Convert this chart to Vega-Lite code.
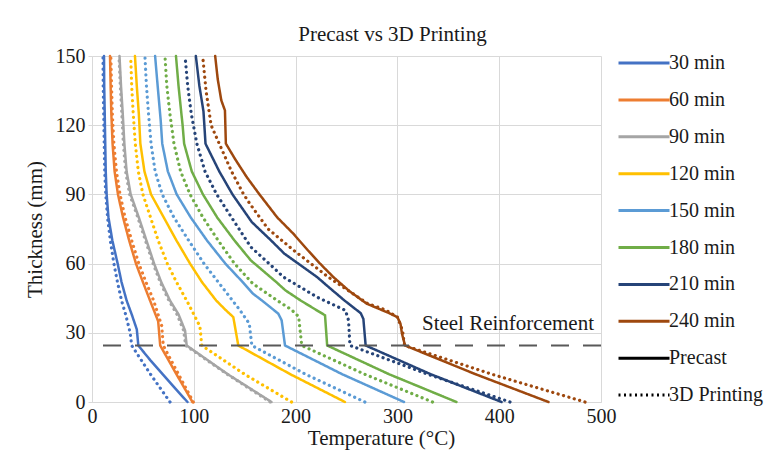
{
"$schema": "https://vega.github.io/schema/vega-lite/v6.json",
"width": 509, "height": 346,
"autosize": "none",
"padding": {"left": 92, "top": 56, "right": 178, "bottom": 65},
"background": "white",
"title": {"text": "Precast vs 3D Printing", "anchor": "middle", "frame": "group", "dx": 46, "dy": 33, "offset": 17, "baseline": "alphabetic", "fontSize": 21, "font": "Liberation Serif", "fontWeight": "normal", "color": "#1a1a1a"},
"datasets": {
"steel": [{"label": "Steel Reinforcement", "mm": 24.5}],
"curves": [
{"time":"30 min","type":"Precast","mm":0,"temp":93.8},{"time":"30 min","type":"Precast","mm":6,"temp":81.5},{"time":"30 min","type":"Precast","mm":12,"temp":69.5},{"time":"30 min","type":"Precast","mm":18,"temp":57.5},{"time":"30 min","type":"Precast","mm":24.5,"temp":45.5},{"time":"30 min","type":"Precast","mm":31.5,"temp":44},{"time":"30 min","type":"Precast","mm":38,"temp":39},{"time":"30 min","type":"Precast","mm":44,"temp":34},{"time":"30 min","type":"Precast","mm":52,"temp":29},{"time":"30 min","type":"Precast","mm":60,"temp":25.2},{"time":"30 min","type":"Precast","mm":70,"temp":20},{"time":"30 min","type":"Precast","mm":80,"temp":16.2},{"time":"30 min","type":"Precast","mm":90,"temp":14.4},{"time":"30 min","type":"Precast","mm":100,"temp":13.5},{"time":"30 min","type":"Precast","mm":112,"temp":13},{"time":"30 min","type":"Precast","mm":125,"temp":12.5},{"time":"30 min","type":"Precast","mm":137,"temp":12},{"time":"30 min","type":"Precast","mm":150,"temp":11.8},
{"time":"30 min","type":"3D Printing","mm":0,"temp":76.6},{"time":"30 min","type":"3D Printing","mm":12,"temp":57.5},{"time":"30 min","type":"3D Printing","mm":24.5,"temp":39},{"time":"30 min","type":"3D Printing","mm":30,"temp":37.5},{"time":"30 min","type":"3D Printing","mm":38,"temp":33},{"time":"30 min","type":"3D Printing","mm":44,"temp":29},{"time":"30 min","type":"3D Printing","mm":52,"temp":25},{"time":"30 min","type":"3D Printing","mm":60,"temp":21.5},{"time":"30 min","type":"3D Printing","mm":70,"temp":18},{"time":"30 min","type":"3D Printing","mm":80,"temp":15.3},{"time":"30 min","type":"3D Printing","mm":90,"temp":13.5},{"time":"30 min","type":"3D Printing","mm":100,"temp":12.5},{"time":"30 min","type":"3D Printing","mm":112,"temp":12},{"time":"30 min","type":"3D Printing","mm":125,"temp":11.5},{"time":"30 min","type":"3D Printing","mm":137,"temp":11},{"time":"30 min","type":"3D Printing","mm":150,"temp":10.8},
{"time":"60 min","type":"Precast","mm":0,"temp":98.7},{"time":"60 min","type":"Precast","mm":12,"temp":83},{"time":"60 min","type":"Precast","mm":24.5,"temp":67},{"time":"60 min","type":"Precast","mm":35,"temp":65},{"time":"60 min","type":"Precast","mm":44,"temp":57},{"time":"60 min","type":"Precast","mm":52,"temp":50},{"time":"60 min","type":"Precast","mm":60,"temp":43.2},{"time":"60 min","type":"Precast","mm":70,"temp":36.5},{"time":"60 min","type":"Precast","mm":80,"temp":30.5},{"time":"60 min","type":"Precast","mm":90,"temp":25.5},{"time":"60 min","type":"Precast","mm":100,"temp":22.2},{"time":"60 min","type":"Precast","mm":112,"temp":20.2},{"time":"60 min","type":"Precast","mm":125,"temp":19},{"time":"60 min","type":"Precast","mm":137,"temp":18.3},{"time":"60 min","type":"Precast","mm":150,"temp":17.7},
{"time":"60 min","type":"3D Printing","mm":0,"temp":99.5},{"time":"60 min","type":"3D Printing","mm":12,"temp":85},{"time":"60 min","type":"3D Printing","mm":24.5,"temp":70},{"time":"60 min","type":"3D Printing","mm":33,"temp":68.5},{"time":"60 min","type":"3D Printing","mm":44,"temp":60.5},{"time":"60 min","type":"3D Printing","mm":52,"temp":53},{"time":"60 min","type":"3D Printing","mm":60,"temp":46},{"time":"60 min","type":"3D Printing","mm":70,"temp":39},{"time":"60 min","type":"3D Printing","mm":80,"temp":32.5},{"time":"60 min","type":"3D Printing","mm":90,"temp":27.5},{"time":"60 min","type":"3D Printing","mm":100,"temp":24},{"time":"60 min","type":"3D Printing","mm":112,"temp":21.5},{"time":"60 min","type":"3D Printing","mm":125,"temp":20},{"time":"60 min","type":"3D Printing","mm":137,"temp":19.2},{"time":"60 min","type":"3D Printing","mm":150,"temp":18.5},
{"time":"90 min","type":"Precast","mm":0,"temp":176.3},{"time":"90 min","type":"Precast","mm":12,"temp":133.5},{"time":"90 min","type":"Precast","mm":24.5,"temp":93},{"time":"90 min","type":"Precast","mm":31,"temp":91.4},{"time":"90 min","type":"Precast","mm":38,"temp":85},{"time":"90 min","type":"Precast","mm":44,"temp":76.6},{"time":"90 min","type":"Precast","mm":52,"temp":68},{"time":"90 min","type":"Precast","mm":60,"temp":61},{"time":"90 min","type":"Precast","mm":70,"temp":53.5},{"time":"90 min","type":"Precast","mm":80,"temp":46},{"time":"90 min","type":"Precast","mm":90,"temp":38},{"time":"90 min","type":"Precast","mm":100,"temp":34},{"time":"90 min","type":"Precast","mm":112,"temp":31.8},{"time":"90 min","type":"Precast","mm":125,"temp":30.2},{"time":"90 min","type":"Precast","mm":137,"temp":28.5},{"time":"90 min","type":"Precast","mm":150,"temp":27},
{"time":"90 min","type":"3D Printing","mm":0,"temp":175},{"time":"90 min","type":"3D Printing","mm":12,"temp":133},{"time":"90 min","type":"3D Printing","mm":24.5,"temp":92},{"time":"90 min","type":"3D Printing","mm":31,"temp":90},{"time":"90 min","type":"3D Printing","mm":38,"temp":83.5},{"time":"90 min","type":"3D Printing","mm":44,"temp":75.5},{"time":"90 min","type":"3D Printing","mm":52,"temp":67},{"time":"90 min","type":"3D Printing","mm":60,"temp":60},{"time":"90 min","type":"3D Printing","mm":70,"temp":52.5},{"time":"90 min","type":"3D Printing","mm":80,"temp":45},{"time":"90 min","type":"3D Printing","mm":90,"temp":37},{"time":"90 min","type":"3D Printing","mm":100,"temp":33},{"time":"90 min","type":"3D Printing","mm":112,"temp":30.8},{"time":"90 min","type":"3D Printing","mm":125,"temp":29.3},{"time":"90 min","type":"3D Printing","mm":137,"temp":27.8},{"time":"90 min","type":"3D Printing","mm":150,"temp":26.5},
{"time":"120 min","type":"3D Printing","mm":0,"temp":196},{"time":"120 min","type":"3D Printing","mm":12,"temp":150},{"time":"120 min","type":"3D Printing","mm":24.5,"temp":107.8},{"time":"120 min","type":"3D Printing","mm":32.8,"temp":106},{"time":"120 min","type":"3D Printing","mm":38,"temp":100},{"time":"120 min","type":"3D Printing","mm":44,"temp":93},{"time":"120 min","type":"3D Printing","mm":52,"temp":83},{"time":"120 min","type":"3D Printing","mm":60,"temp":74},{"time":"120 min","type":"3D Printing","mm":70,"temp":65},{"time":"120 min","type":"3D Printing","mm":80,"temp":57.5},{"time":"120 min","type":"3D Printing","mm":90,"temp":50},{"time":"120 min","type":"3D Printing","mm":100,"temp":45.5},{"time":"120 min","type":"3D Printing","mm":112,"temp":42.5},{"time":"120 min","type":"3D Printing","mm":125,"temp":40.5},{"time":"120 min","type":"3D Printing","mm":137,"temp":39},{"time":"120 min","type":"3D Printing","mm":150,"temp":38},
{"time":"120 min","type":"Precast","mm":0,"temp":248.5},{"time":"120 min","type":"Precast","mm":12,"temp":195},{"time":"120 min","type":"Precast","mm":24.5,"temp":143.7},{"time":"120 min","type":"Precast","mm":36.8,"temp":138.8},{"time":"120 min","type":"Precast","mm":40,"temp":131},{"time":"120 min","type":"Precast","mm":44,"temp":122},{"time":"120 min","type":"Precast","mm":52,"temp":108},{"time":"120 min","type":"Precast","mm":60,"temp":96.3},{"time":"120 min","type":"Precast","mm":70,"temp":83},{"time":"120 min","type":"Precast","mm":80,"temp":70.5},{"time":"120 min","type":"Precast","mm":90,"temp":58},{"time":"120 min","type":"Precast","mm":100,"temp":51.5},{"time":"120 min","type":"Precast","mm":112,"temp":47.5},{"time":"120 min","type":"Precast","mm":125,"temp":46},{"time":"120 min","type":"Precast","mm":137,"temp":44},{"time":"120 min","type":"Precast","mm":150,"temp":42.2},
{"time":"150 min","type":"3D Printing","mm":0,"temp":268},{"time":"150 min","type":"3D Printing","mm":12,"temp":210},{"time":"150 min","type":"3D Printing","mm":24.5,"temp":157},{"time":"150 min","type":"3D Printing","mm":34,"temp":154.5},{"time":"150 min","type":"3D Printing","mm":40,"temp":145},{"time":"150 min","type":"3D Printing","mm":44,"temp":138},{"time":"150 min","type":"3D Printing","mm":52,"temp":124},{"time":"150 min","type":"3D Printing","mm":60,"temp":110},{"time":"150 min","type":"3D Printing","mm":70,"temp":95},{"time":"150 min","type":"3D Printing","mm":80,"temp":80.5},{"time":"150 min","type":"3D Printing","mm":90,"temp":69},{"time":"150 min","type":"3D Printing","mm":100,"temp":62},{"time":"150 min","type":"3D Printing","mm":112,"temp":58},{"time":"150 min","type":"3D Printing","mm":125,"temp":55.5},{"time":"150 min","type":"3D Printing","mm":137,"temp":53.5},{"time":"150 min","type":"3D Printing","mm":150,"temp":52},
{"time":"150 min","type":"Precast","mm":0,"temp":306.5},{"time":"150 min","type":"Precast","mm":12,"temp":246},{"time":"150 min","type":"Precast","mm":24.5,"temp":189.6},{"time":"150 min","type":"Precast","mm":35.4,"temp":186.3},{"time":"150 min","type":"Precast","mm":38.3,"temp":183},{"time":"150 min","type":"Precast","mm":44,"temp":167},{"time":"150 min","type":"Precast","mm":47,"temp":158},{"time":"150 min","type":"Precast","mm":52,"temp":148},{"time":"150 min","type":"Precast","mm":60,"temp":131},{"time":"150 min","type":"Precast","mm":70,"temp":113},{"time":"150 min","type":"Precast","mm":80,"temp":97},{"time":"150 min","type":"Precast","mm":90,"temp":83.2},{"time":"150 min","type":"Precast","mm":100,"temp":74.5},{"time":"150 min","type":"Precast","mm":112,"temp":69},{"time":"150 min","type":"Precast","mm":122,"temp":67.5},{"time":"150 min","type":"Precast","mm":137,"temp":64.5},{"time":"150 min","type":"Precast","mm":150,"temp":62},
{"time":"180 min","type":"3D Printing","mm":0,"temp":334.5},{"time":"180 min","type":"3D Printing","mm":12,"temp":268},{"time":"180 min","type":"3D Printing","mm":24.5,"temp":206},{"time":"180 min","type":"3D Printing","mm":37,"temp":203},{"time":"180 min","type":"3D Printing","mm":40,"temp":196},{"time":"180 min","type":"3D Printing","mm":44,"temp":182},{"time":"180 min","type":"3D Printing","mm":51.3,"temp":158},{"time":"180 min","type":"3D Printing","mm":60,"temp":140},{"time":"180 min","type":"3D Printing","mm":70,"temp":124},{"time":"180 min","type":"3D Printing","mm":80,"temp":109},{"time":"180 min","type":"3D Printing","mm":90,"temp":96.3},{"time":"180 min","type":"3D Printing","mm":100,"temp":87},{"time":"180 min","type":"3D Printing","mm":112,"temp":80.5},{"time":"180 min","type":"3D Printing","mm":125,"temp":76.5},{"time":"180 min","type":"3D Printing","mm":137,"temp":73.5},{"time":"180 min","type":"3D Printing","mm":150,"temp":71.7},
{"time":"180 min","type":"Precast","mm":0,"temp":358},{"time":"180 min","type":"Precast","mm":12,"temp":292},{"time":"180 min","type":"Precast","mm":24.5,"temp":231},{"time":"180 min","type":"Precast","mm":37.6,"temp":228.9},{"time":"180 min","type":"Precast","mm":39.7,"temp":221},{"time":"180 min","type":"Precast","mm":44,"temp":205},{"time":"180 min","type":"Precast","mm":48.4,"temp":190},{"time":"180 min","type":"Precast","mm":52,"temp":181},{"time":"180 min","type":"Precast","mm":61.4,"temp":156},{"time":"180 min","type":"Precast","mm":70,"temp":140},{"time":"180 min","type":"Precast","mm":80,"temp":123},{"time":"180 min","type":"Precast","mm":90,"temp":109},{"time":"180 min","type":"Precast","mm":100,"temp":98},{"time":"180 min","type":"Precast","mm":112,"temp":90.5},{"time":"180 min","type":"Precast","mm":120,"temp":89},{"time":"180 min","type":"Precast","mm":137,"temp":85},{"time":"180 min","type":"Precast","mm":150,"temp":82.5},
{"time":"210 min","type":"3D Printing","mm":0,"temp":410.6},{"time":"210 min","type":"3D Printing","mm":12,"temp":330},{"time":"210 min","type":"3D Printing","mm":24.5,"temp":253.4},{"time":"210 min","type":"3D Printing","mm":35.4,"temp":252},{"time":"210 min","type":"3D Printing","mm":39.7,"temp":249},{"time":"210 min","type":"3D Printing","mm":45.5,"temp":221},{"time":"210 min","type":"3D Printing","mm":54.2,"temp":188},{"time":"210 min","type":"3D Printing","mm":60,"temp":174},{"time":"210 min","type":"3D Printing","mm":67.2,"temp":156},{"time":"210 min","type":"3D Printing","mm":78.7,"temp":139},{"time":"210 min","type":"3D Printing","mm":90,"temp":122.5},{"time":"210 min","type":"3D Printing","mm":100,"temp":111},{"time":"210 min","type":"3D Printing","mm":112,"temp":103},{"time":"210 min","type":"3D Printing","mm":125,"temp":97.5},{"time":"210 min","type":"3D Printing","mm":137,"temp":94},{"time":"210 min","type":"3D Printing","mm":150,"temp":91.4},
{"time":"210 min","type":"Precast","mm":0,"temp":402.3},{"time":"210 min","type":"Precast","mm":12,"temp":333},{"time":"210 min","type":"Precast","mm":24.5,"temp":268.8},{"time":"210 min","type":"Precast","mm":36,"temp":266.6},{"time":"210 min","type":"Precast","mm":38.5,"temp":264},{"time":"210 min","type":"Precast","mm":44,"temp":248},{"time":"210 min","type":"Precast","mm":50,"temp":232},{"time":"210 min","type":"Precast","mm":54.2,"temp":221},{"time":"210 min","type":"Precast","mm":64.3,"temp":189},{"time":"210 min","type":"Precast","mm":70,"temp":176},{"time":"210 min","type":"Precast","mm":78,"temp":157},{"time":"210 min","type":"Precast","mm":90,"temp":138},{"time":"210 min","type":"Precast","mm":100,"temp":125},{"time":"210 min","type":"Precast","mm":112,"temp":111.5},{"time":"210 min","type":"Precast","mm":126,"temp":109.5},{"time":"210 min","type":"Precast","mm":137,"temp":105.5},{"time":"210 min","type":"Precast","mm":150,"temp":102},
{"time":"240 min","type":"3D Printing","mm":0,"temp":484.3},{"time":"240 min","type":"3D Printing","mm":12,"temp":393},{"time":"240 min","type":"3D Printing","mm":24.5,"temp":307},{"time":"240 min","type":"3D Printing","mm":31,"temp":305},{"time":"240 min","type":"3D Printing","mm":36.8,"temp":300},{"time":"240 min","type":"3D Printing","mm":40,"temp":288},{"time":"240 min","type":"3D Printing","mm":42.6,"temp":271},{"time":"240 min","type":"3D Printing","mm":54.2,"temp":232},{"time":"240 min","type":"3D Printing","mm":65.8,"temp":198},{"time":"240 min","type":"3D Printing","mm":75,"temp":173},{"time":"240 min","type":"3D Printing","mm":86,"temp":155},{"time":"240 min","type":"3D Printing","mm":90,"temp":149},{"time":"240 min","type":"3D Printing","mm":100,"temp":137},{"time":"240 min","type":"3D Printing","mm":120,"temp":117},{"time":"240 min","type":"3D Printing","mm":135,"temp":112},{"time":"240 min","type":"3D Printing","mm":150,"temp":108.7},
{"time":"240 min","type":"Precast","mm":0,"temp":448.4},{"time":"240 min","type":"Precast","mm":12,"temp":377},{"time":"240 min","type":"Precast","mm":24.5,"temp":307.5},{"time":"240 min","type":"Precast","mm":29.6,"temp":304.5},{"time":"240 min","type":"Precast","mm":34,"temp":303},{"time":"240 min","type":"Precast","mm":36.8,"temp":300},{"time":"240 min","type":"Precast","mm":38.5,"temp":292},{"time":"240 min","type":"Precast","mm":42.6,"temp":270},{"time":"240 min","type":"Precast","mm":48,"temp":253},{"time":"240 min","type":"Precast","mm":54.2,"temp":237},{"time":"240 min","type":"Precast","mm":60,"temp":224},{"time":"240 min","type":"Precast","mm":65.8,"temp":212},{"time":"240 min","type":"Precast","mm":73,"temp":197.7},{"time":"240 min","type":"Precast","mm":80,"temp":182},{"time":"240 min","type":"Precast","mm":90.3,"temp":164},{"time":"240 min","type":"Precast","mm":97.5,"temp":152},{"time":"240 min","type":"Precast","mm":105,"temp":141},{"time":"240 min","type":"Precast","mm":112,"temp":131.5},{"time":"240 min","type":"Precast","mm":126.4,"temp":130.6},{"time":"240 min","type":"Precast","mm":130.8,"temp":127},{"time":"240 min","type":"Precast","mm":140,"temp":123.5},{"time":"240 min","type":"Precast","mm":150,"temp":121}
]},
"layer": [
{"data": {"name": "curves"},
 "mark": {"type": "line", "strokeCap": "round"},
 "encoding": {
  "x": {"field": "temp", "type": "quantitative", "scale": {"domain": [0, 500], "nice": false},
        "axis": {"values": [0, 100, 200, 300, 400, 500], "title": "Temperature (°C)", "labelFlush": false, "labelPadding": 4, "titlePadding": 1, "titleX": 289, "titleAlign": "center", "ticks": false}},
  "y": {"field": "mm", "type": "quantitative", "scale": {"domain": [0, 150], "nice": false},
        "axis": {"values": [0, 30, 60, 90, 120, 150], "title": "Thickness (mm)", "labelFlush": false, "labelPadding": 3, "titlePadding": 10}},
  "color": {"field": "time", "type": "nominal",
    "scale": {"domain": ["30 min", "60 min", "90 min", "120 min", "150 min", "180 min", "210 min", "240 min", "Precast", "3D Printing"],
              "range": ["#4472C4", "#ED7D31", "#A5A5A5", "#FFC000", "#5B9BD5", "#70AD47", "#264478", "#9E480E", "#000000", "#000000"]},
    "legend": {"title": null, "orient": "none", "legendX": 525, "legendY": -4, "symbolType": "stroke", "symbolSize": 2601, "symbolStrokeWidth": 3, "clipHeight": 22, "rowPadding": 14.9, "labelOffset": -2, "labelFontSize": 20, "labelFont": "Liberation Serif", "labelColor": "#1a1a1a", "padding": 0,
      "encode": {"symbols": {"update": {"strokeDash": {"signal": "datum.value === '3D Printing' ? [2, 3.5] : [1, 0]"}}}}}},
  "strokeDash": {"field": "type", "type": "nominal", "scale": {"domain": ["Precast", "3D Printing"], "range": [[1, 0], [0.1, 5.5]]}, "legend": null},
  "strokeWidth": {"field": "type", "type": "nominal", "scale": {"domain": ["Precast", "3D Printing"], "range": [2.5, 3.2]}, "legend": null},
  "order": {"field": "mm", "type": "quantitative"}
 }},
{"data": {"name": "steel"},
 "mark": {"type": "rule", "color": "#595959", "strokeWidth": 2, "strokeDash": [18, 14]},
 "encoding": {"y": {"field": "mm", "type": "quantitative"}}},
{"data": {"name": "steel"},
 "mark": {"type": "text", "align": "right", "baseline": "alphabetic", "dx": -7, "dy": -15, "fontSize": 21, "font": "Liberation Serif", "color": "#1a1a1a"},
 "encoding": {"y": {"field": "mm", "type": "quantitative"}, "x": {"datum": 500, "type": "quantitative"}, "text": {"field": "label"}}}
],
"config": {
 "font": "Liberation Serif",
 "view": {"stroke": null},
 "axis": {"gridColor": "#d9d9d9", "domainColor": "#d9d9d9", "tickColor": "#d9d9d9", "tickSize": 4, "labelFontSize": 20, "labelColor": "#1a1a1a", "labelFont": "Liberation Serif", "titleFontSize": 21, "titleFontWeight": "normal", "titleColor": "#1a1a1a", "titleFont": "Liberation Serif"}
}
}
